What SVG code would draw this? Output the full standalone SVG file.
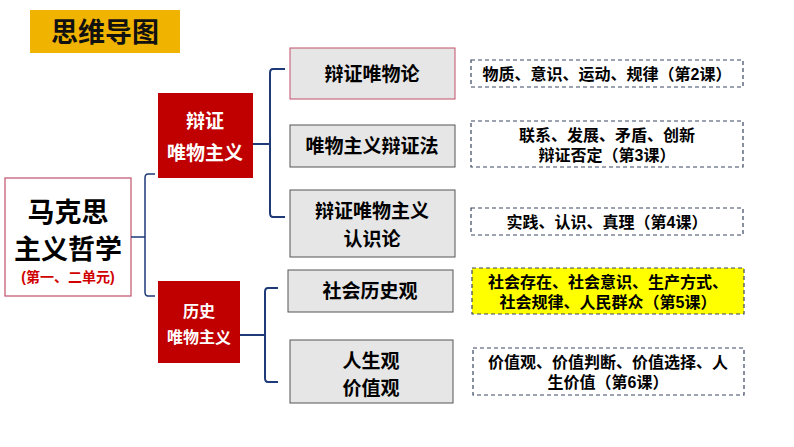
<svg xmlns="http://www.w3.org/2000/svg" width="794" height="447" viewBox="0 0 794 447">
<style>
text{font-family:"Liberation Sans","Noto Sans CJK SC",sans-serif;font-weight:bold;text-anchor:middle}
.n{fill:#E6E6E6;stroke:#555;stroke-width:1}
.d{fill:#fff;stroke:#3A4660;stroke-width:1.2;stroke-dasharray:4,3}
.r{fill:#C00000}
.w{fill:#fff}
.b{fill:none;stroke:#1F3A78;stroke-width:2}
</style>
<rect width="794" height="447" fill="#fff"/>
<g id="title"><rect x="30" y="10" width="150" height="43" fill="#F0B400"/><text x="105" y="42" font-size="27" fill="#111">思维导图</text></g>
<g id="root"><rect x="5" y="178" width="126" height="118" fill="#fff" stroke="#C0506A" stroke-width="1.2"/>
<text x="68" y="222" font-size="27" fill="#000">马克思</text><text x="68" y="259" font-size="27" fill="#000">主义哲学</text><text x="68" y="282" font-size="14" fill="#D00000">(第一、二单元)</text></g>
<g id="connectors">
<path class="b" d="M131 237H145M155 174H148Q145 174 145 178V292Q145 296 148 296H155" style="stroke-width:1.5"/>
<path class="b" d="M253 144H270M285 69H273Q270 69 270 73V213Q270 217 273 217H285"/>
<path class="b" d="M240 335H265M278 288H268Q265 288 265 292V378Q265 382 268 382H278"/>
</g>
<g id="dm"><rect class="r" x="158" y="93" width="95" height="85"/><text class="w" x="205" y="128" font-size="19">辩证</text><text class="w" x="205" y="160" font-size="19">唯物主义</text></g>
<g id="hm"><rect class="r" x="158" y="281" width="82" height="82"/><text class="w" x="199" y="317" font-size="16">历史</text><text class="w" x="199" y="343" font-size="16">唯物主义</text></g>
<g id="n1"><rect class="n" x="290" y="48" width="165" height="51" style="stroke:#C0506A"/><text x="372" y="81" font-size="19">辩证唯物论</text></g>
<g id="n2"><rect class="n" x="290" y="125" width="165" height="42"/><text x="372" y="153" font-size="19">唯物主义辩证法</text></g>
<g id="n3"><rect class="n" x="290" y="190" width="165" height="67"/><text x="372" y="218" font-size="19">辩证唯物主义</text><text x="372" y="246" font-size="19">认识论</text></g>
<g id="n4"><rect class="n" x="288" y="270" width="165" height="42"/><text x="370" y="298" font-size="19">社会历史观</text></g>
<g id="n5"><rect class="n" x="290" y="340" width="163" height="63"/><text x="371" y="368" font-size="19">人生观</text><text x="371" y="395" font-size="19">价值观</text></g>
<g id="d1"><rect class="d" x="471" y="60" width="272" height="27"/><text x="607" y="80" font-size="16">物质、意识、运动、规律（第2课）</text></g>
<g id="d2"><rect class="d" x="471" y="121" width="272" height="46"/><text x="607" y="141" font-size="16">联系、发展、矛盾、创新</text><text x="607" y="161" font-size="16">辩证否定（第3课）</text></g>
<g id="d3"><rect class="d" x="471" y="208" width="272" height="27"/><text x="607" y="228" font-size="16">实践、认识、真理（第4课）</text></g>
<g id="d4"><rect class="d" x="472" y="268" width="272" height="46" style="fill:#FFFF00"/><text x="608" y="288" font-size="16">社会存在、社会意识、生产方式、</text><text x="608" y="308" font-size="16">社会规律、人民群众（第5课）</text></g>
<g id="d5"><rect class="d" x="473" y="348" width="271" height="47"/><text x="608" y="368" font-size="16">价值观、价值判断、价值选择、人</text><text x="608" y="388" font-size="16">生价值（第6课）</text></g>
</svg>
